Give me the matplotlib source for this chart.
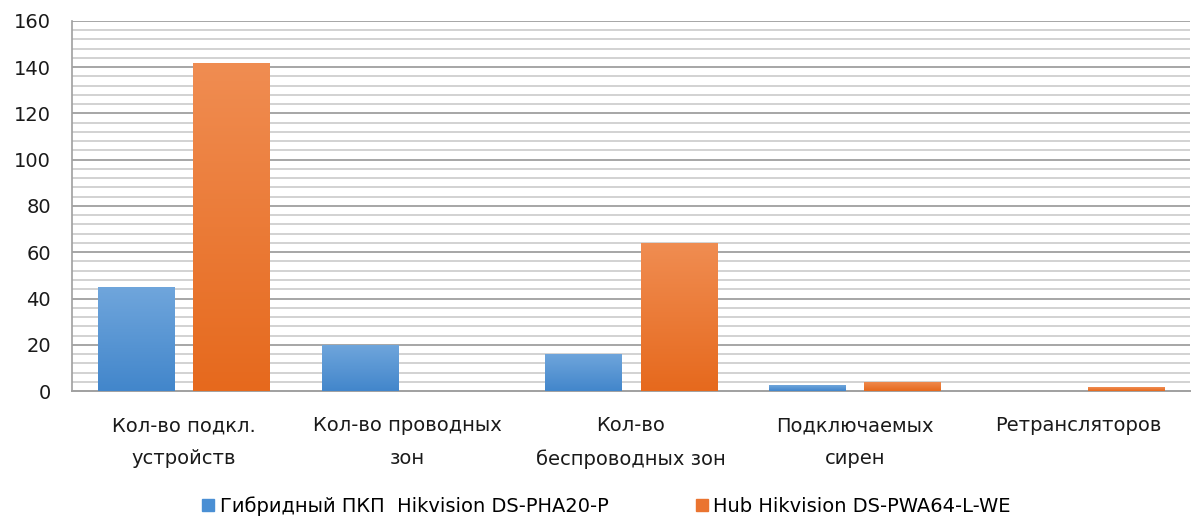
import numpy as np
import matplotlib
matplotlib.use("Agg")
import matplotlib.pyplot as plt
import matplotlib.patches as mpatches
from matplotlib.colors import LinearSegmentedColormap

categories = ["Кол-во подкл.\nустройств", "Кол-во проводных\nзон",
              "Кол-во\nбеспроводных зон", "Подключаемых\nсирен", "Ретрансляторов"]
hybrid_vals = [45, 20, 16, 2.5, 0]
hub_vals = [142, 0, 64, 4, 1.7]
series_names = ["Гибридный ПКП  Hikvision DS-PHA20-P", "Hub Hikvision DS-PWA64-L-WE"]
y_ticks = [0, 20, 40, 60, 80, 100, 120, 140, 160]

BLUE_TOP, BLUE_BOT = "#70a6dc", "#4286cb"
ORANGE_TOP, ORANGE_BOT = "#f08d52", "#e6691d"

plt.rcParams["font.family"] = ["DejaVu Sans"]

fig = plt.figure(figsize=(11.94, 5.19), dpi=100)
ax = fig.add_axes([0.060, 0.2466, 0.937, 0.713])

x = np.arange(len(categories))
w = 0.34
gap = 0.085
b1 = ax.bar(x - (w + gap) / 2, hybrid_vals, w, color=BLUE_BOT, zorder=3)
b2 = ax.bar(x + (w + gap) / 2, hub_vals, w, color=ORANGE_BOT, zorder=3)

# vertical gradient fill, like the office chart style
grad = np.linspace(0, 1, 256).reshape(-1, 1)
for bars, top, bot in [(b1, BLUE_TOP, BLUE_BOT), (b2, ORANGE_TOP, ORANGE_BOT)]:
    cmap = LinearSegmentedColormap.from_list("g", [bot, top])
    for p in bars:
        h = p.get_height()
        if h <= 0:
            continue
        px, py, pw = p.get_x(), p.get_y(), p.get_width()
        im = ax.imshow(grad, cmap=cmap, aspect="auto", origin="lower",
                       extent=(px, px + pw, py, py + h), zorder=4)
        im.set_clip_path(p)

ax.set_xlim(-0.5, len(categories) - 0.5)
ax.set_ylim(0, 160)

# minor lines every 4, major every 20
for v in np.arange(4, 160, 4):
    if v % 20:
        ax.axhline(v, color="#cfcfcf", lw=1.3, zorder=1)
for v in y_ticks[1:]:
    ax.axhline(v, color="#a6a6a6", lw=1.4, zorder=2)

ax.set_yticks(y_ticks)
ax.set_xticks(x)
ax.set_xticklabels(categories, fontsize=14, linespacing=1.9, color="#1a1a1a")
ax.tick_params(axis="y", labelsize=14, length=0, pad=15, labelcolor="#1a1a1a")
ax.tick_params(axis="x", length=0, pad=18)

for s in ["top", "right"]:
    ax.spines[s].set_visible(False)
ax.spines["left"].set_color("#a0a0a0")
ax.spines["bottom"].set_color("#a0a0a0")
ax.spines["left"].set_linewidth(1.2)
ax.spines["bottom"].set_linewidth(1.4)

handles = [mpatches.Patch(color="#4a8fd4"), mpatches.Patch(color="#ea7430")]
fig.legend(handles, series_names, loc="center", bbox_to_anchor=(0.508, 0.025),
           ncol=2, frameon=False, fontsize=14, handlelength=0.6, handleheight=0.6,
           handletextpad=0.3, columnspacing=4.5)

fig.savefig("out.png", dpi=100, facecolor="white")
